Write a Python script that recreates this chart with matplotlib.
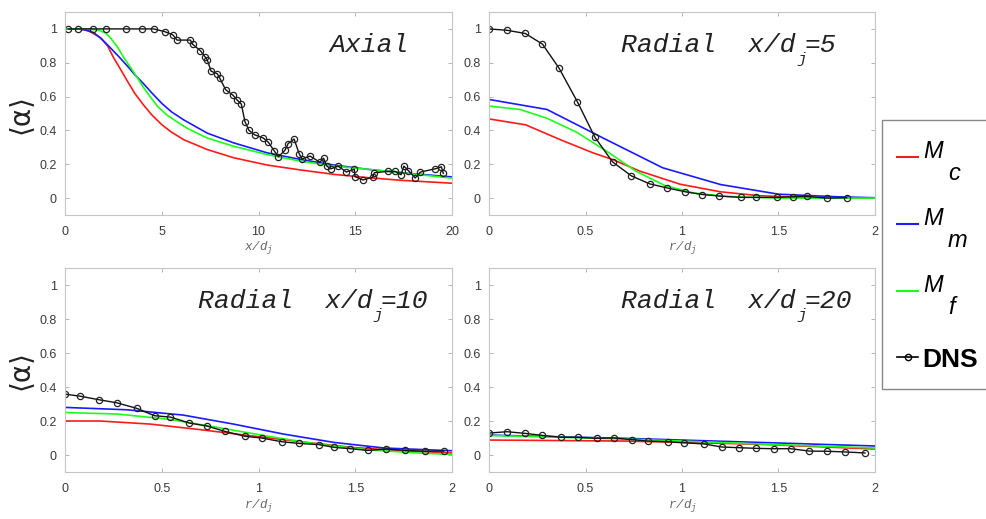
import matplotlib
matplotlib.use("Agg")
import matplotlib.pyplot as plt
from matplotlib.lines import Line2D
from matplotlib.patches import Rectangle

plt.rcParams['mathtext.fontset'] = 'custom'
plt.rcParams['mathtext.it'] = 'Liberation Mono:italic'
plt.rcParams['mathtext.rm'] = 'Liberation Mono:italic'
plt.rcParams['font.family'] = ['Liberation Sans', 'DejaVu Sans']

# ---------------- Axial ----------------
ax_dns_x = [0.17, 0.69, 1.47, 2.13, 3.16, 3.96, 4.58, 5.15, 5.57, 5.79, 6.48, 6.59, 7.0, 7.23,
            7.35, 7.55, 7.87, 7.99, 8.30, 8.68, 8.9, 9.11, 9.30, 9.51, 9.8, 10.25, 10.51, 10.80,
            11.03, 11.37, 11.53, 11.84, 12.10, 12.24, 12.67, 13.17, 13.36, 13.53, 13.74, 14.12,
            14.54, 14.95, 14.99, 15.40, 15.90, 15.99, 16.71, 17.06, 17.37, 17.51, 17.75, 18.1,
            18.37, 19.13, 19.45, 19.55]
ax_dns_y = [1.0, 1.0, 1.0, 1.0, 1.0, 1.0, 1.0, 0.984, 0.965, 0.934, 0.934, 0.91, 0.871, 0.836,
            0.817, 0.75, 0.735, 0.711, 0.641, 0.608, 0.579, 0.556, 0.452, 0.40, 0.374, 0.355,
            0.33, 0.281, 0.244, 0.283, 0.322, 0.349, 0.263, 0.232, 0.248, 0.212, 0.236, 0.189,
            0.173, 0.189, 0.154, 0.17, 0.127, 0.107, 0.123, 0.15, 0.158, 0.158, 0.138, 0.189,
            0.162, 0.119, 0.154, 0.173, 0.185, 0.146]

ax_mc_x = [0.0, 0.7, 1.2, 1.81, 2.2, 2.51, 2.85, 3.2, 3.6, 4.06, 4.5, 5.01, 5.5, 6.14, 7.35, 8.73,
           10.46, 12.19, 13.92, 15.64, 17.37, 20.0]
ax_mc_y = [1.0, 1.0, 0.99, 0.95, 0.9, 0.83, 0.765, 0.696, 0.62, 0.55, 0.49, 0.433, 0.39, 0.345,
           0.287, 0.238, 0.195, 0.166, 0.14, 0.121, 0.105, 0.088]
ax_mm_x = [0.0, 0.7, 1.0, 1.47, 1.9, 2.33, 2.75, 3.2, 3.6, 4.06, 4.5, 5.01, 5.5, 6.14, 7.35, 8.73,
           10.46, 12.19, 13.92, 15.64, 17.37, 20.0]
ax_mm_y = [1.0, 1.0, 0.995, 0.979, 0.94, 0.89, 0.84, 0.784, 0.73, 0.676, 0.62, 0.559, 0.51, 0.462,
           0.384, 0.326, 0.267, 0.228, 0.195, 0.17, 0.15, 0.125]
ax_mf_x = [0.0, 0.7, 1.3, 1.81, 2.1, 2.33, 2.7, 3.03, 3.4, 3.72, 4.05, 4.41, 4.8, 5.27, 5.8, 6.31,
           7.35, 8.73, 10.46, 12.19, 13.92, 15.64, 17.37, 20.0]
ax_mf_y = [1.0, 1.0, 1.0, 0.99, 0.975, 0.95, 0.895, 0.832, 0.77, 0.715, 0.655, 0.598, 0.54, 0.491,
           0.45, 0.413, 0.355, 0.306, 0.257, 0.218, 0.189, 0.17, 0.15, 0.118]

# ---------------- Radial x/dj = 5 ----------------
r5_dns_x = [0.0, 0.093, 0.188, 0.277, 0.363, 0.458, 0.548, 0.64, 0.738, 0.833, 0.923, 1.018,
            1.106, 1.193, 1.305, 1.386, 1.494, 1.573, 1.649, 1.749, 1.853]
r5_dns_y = [1.0, 0.992, 0.973, 0.91, 0.768, 0.569, 0.361, 0.214, 0.131, 0.084, 0.06, 0.037,
            0.021, 0.012, 0.004, 0.004, 0.004, 0.008, 0.01, 0.0, 0.002]
r5_mc_x = [0.0, 0.19, 0.37, 0.54, 0.64, 0.78, 0.99, 1.2, 1.4, 1.66, 2.0]
r5_mc_y = [0.468, 0.433, 0.345, 0.267, 0.228, 0.16, 0.082, 0.037, 0.014, 0.002, 0.0]
r5_mm_x = [0.0, 0.3, 0.6, 0.9, 1.2, 1.5, 1.8, 2.0]
r5_mm_y = [0.583, 0.524, 0.35, 0.179, 0.08, 0.023, 0.008, 0.002]
r5_mf_x = [0.0, 0.16, 0.30, 0.453, 0.61, 0.76, 0.91, 1.06, 1.23, 1.5, 2.0]
r5_mf_y = [0.544, 0.524, 0.472, 0.39, 0.277, 0.16, 0.075, 0.03, 0.01, 0.0, 0.0]

# ---------------- Radial x/dj = 10 ----------------
r10_dns_x = [0.0, 0.078, 0.176, 0.268, 0.372, 0.463, 0.545, 0.643, 0.735, 0.826, 0.93, 1.016,
             1.12, 1.21, 1.314, 1.39, 1.475, 1.564, 1.66, 1.758, 1.858, 1.958]
r10_dns_y = [0.358, 0.346, 0.325, 0.307, 0.274, 0.231, 0.223, 0.188, 0.17, 0.139, 0.11, 0.1,
             0.078, 0.068, 0.061, 0.045, 0.037, 0.027, 0.035, 0.027, 0.022, 0.023]
r10_mc_x = [0.0, 0.18, 0.44, 0.7, 0.96, 1.22, 1.48, 1.74, 2.0]
r10_mc_y = [0.2, 0.2, 0.182, 0.149, 0.113, 0.078, 0.045, 0.025, 0.012]
r10_mm_x = [0.0, 0.32, 0.61, 0.87, 1.13, 1.39, 1.65, 2.0]
r10_mm_y = [0.28, 0.266, 0.235, 0.182, 0.123, 0.074, 0.041, 0.025]
r10_mf_x = [0.0, 0.27, 0.53, 0.79, 1.05, 1.3, 1.56, 1.82, 2.0]
r10_mf_y = [0.25, 0.241, 0.211, 0.162, 0.11, 0.065, 0.031, 0.012, 0.003]

# ---------------- Radial x/dj = 20 ----------------
r20_dns_x = [0.0, 0.093, 0.188, 0.277, 0.375, 0.46, 0.557, 0.647, 0.743, 0.825, 0.928, 1.01,
             1.115, 1.205, 1.295, 1.386, 1.476, 1.564, 1.66, 1.75, 1.844, 1.948]
r20_dns_y = [0.129, 0.137, 0.127, 0.115, 0.104, 0.104, 0.098, 0.1, 0.09, 0.082, 0.078, 0.072,
             0.065, 0.047, 0.043, 0.039, 0.037, 0.037, 0.023, 0.022, 0.018, 0.012]
r20_mc_x = [0.0, 0.71, 1.4, 2.0]
r20_mc_y = [0.088, 0.082, 0.063, 0.035]
r20_mm_x = [0.0, 0.71, 1.4, 2.0]
r20_mm_y = [0.117, 0.098, 0.074, 0.053]
r20_mf_x = [0.0, 0.71, 1.4, 2.0]
r20_mf_y = [0.115, 0.094, 0.065, 0.041]

panels = [
    dict(rect=(65, 12, 452, 215), xlim=(0, 20), xticks=[0, 5, 10, 15, 20], xtl=['0', '5', '10', '15', '20'],
         xlabel=r'$x/d_j$', title=('Axial', None), ylabel=True,
         dns=(ax_dns_x, ax_dns_y), mc=(ax_mc_x, ax_mc_y), mm=(ax_mm_x, ax_mm_y), mf=(ax_mf_x, ax_mf_y)),
    dict(rect=(489, 12, 875, 215), xlim=(0, 2), xticks=[0, 0.5, 1, 1.5, 2], xtl=['0', '0.5', '1', '1.5', '2'],
         xlabel=r'$r/d_j$', title=('Radial  x/d', '=5'), ylabel=False,
         dns=(r5_dns_x, r5_dns_y), mc=(r5_mc_x, r5_mc_y), mm=(r5_mm_x, r5_mm_y), mf=(r5_mf_x, r5_mf_y)),
    dict(rect=(65, 268, 452, 472), xlim=(0, 2), xticks=[0, 0.5, 1, 1.5, 2], xtl=['0', '0.5', '1', '1.5', '2'],
         xlabel=r'$r/d_j$', title=('Radial  x/d', '=10'), ylabel=True,
         dns=(r10_dns_x, r10_dns_y), mc=(r10_mc_x, r10_mc_y), mm=(r10_mm_x, r10_mm_y), mf=(r10_mf_x, r10_mf_y)),
    dict(rect=(489, 268, 875, 472), xlim=(0, 2), xticks=[0, 0.5, 1, 1.5, 2], xtl=['0', '0.5', '1', '1.5', '2'],
         xlabel=r'$r/d_j$', title=('Radial  x/d', '=20'), ylabel=False,
         dns=(r20_dns_x, r20_dns_y), mc=(r20_mc_x, r20_mc_y), mm=(r20_mm_x, r20_mm_y), mf=(r20_mf_x, r20_mf_y)),
]

yticks = [0, 0.2, 0.4, 0.6, 0.8, 1]
ytl = ['0', '0.2', '0.4', '0.6', '0.8', '1']

W, H = 986, 519
fig = plt.figure(figsize=(W / 100, H / 100), dpi=100)
renderer = fig.canvas.get_renderer()

C_RED, C_BLUE, C_GREEN = '#ff1a1a', '#1a1aff', '#1aff1a'
TFONT = dict(family='Liberation Mono', style='italic', color='#222222')

for p in panels:
    x0, y0, x1, y1 = p['rect']
    ax = fig.add_axes([x0 / W, 1 - y1 / H, (x1 - x0) / W, (y1 - y0) / H])
    ax.plot(*p['mc'], color=C_RED, lw=1.2)
    ax.plot(*p['mm'], color=C_BLUE, lw=1.2)
    ax.plot(*p['mf'], color=C_GREEN, lw=1.2)
    ax.plot(*p['dns'], color='#111111', lw=1.0, marker='o', ms=4.5, mfc='none', mec='#222222', mew=0.9)
    ax.set_xlim(*p['xlim'])
    ax.set_ylim(-0.1, 1.1)
    ax.set_xticks(p['xticks'])
    ax.set_xticklabels(p['xtl'])
    ax.set_yticks(yticks)
    ax.set_yticklabels(ytl)
    ax.tick_params(direction='in', length=3, width=0.6, color='#aaaaaa', labelsize=9,
                   labelcolor='#3a3a3a', top=True, right=True)
    ax.tick_params(axis='x', pad=8)
    ax.tick_params(axis='y', pad=6)
    for s in ax.spines.values():
        s.set_color('#c4c4c4')
        s.set_linewidth(0.8)
    ax.set_xlabel(p['xlabel'], fontsize=9, color='#666666', labelpad=1)
    main, tail = p['title']
    if tail is None:
        ax.text(0.889, 0.803, main, transform=ax.transAxes, ha='right', va='baseline',
                fontsize=19, **TFONT)
    else:
        t = ax.text(0.343, 0.803, main, transform=ax.transAxes, ha='left', va='baseline',
                    fontsize=19, **TFONT)
        bb = t.get_window_extent(renderer)
        bx, by = ax.transAxes.transform((0.343, 0.803))
        fig.text((bb.x1 + 1) / W, (by - 11) / H, 'j', fontsize=11, ha='left', va='baseline', **TFONT)
        fig.text((bb.x1 + 8) / W, by / H, tail, fontsize=19, ha='left', va='baseline', **TFONT)
    if p['ylabel']:
        ax.set_ylabel('⟨α⟩', fontsize=20, family=['DejaVu Sans'], color='#222222', labelpad=4)

# ---------------- legend (manual) ----------------
def fx(px):
    return px / W

def fy(py):
    return 1 - py / H

fig.patches.append(Rectangle((fx(882), fy(389)), fx(1010) - fx(882), fy(120) - fy(389),
                             transform=fig.transFigure, fill=True, facecolor='white',
                             edgecolor='#888888', lw=1.0, clip_on=False))
leg_items = [('c', C_RED, 157), ('m', C_BLUE, 224), ('f', C_GREEN, 291)]
for sub, col, ly in leg_items:
    fig.add_artist(Line2D([fx(897), fx(918)], [fy(ly), fy(ly)], color=col, lw=1.5,
                          transform=fig.transFigure))
    fig.text(fx(923), fy(ly + 1), 'M', fontsize=17, style='italic', family='Liberation Sans',
             va='baseline', ha='left', color='black')
    fig.text(fx(948), fy(ly + 23), sub, fontsize=17, style='italic', family='Liberation Sans',
             va='baseline', ha='left', color='black')
fig.add_artist(Line2D([fx(897), fx(918)], [fy(357), fy(357)], color='black', lw=1.2,
                      transform=fig.transFigure))
fig.add_artist(Line2D([fx(907.5)], [fy(357)], color='black', marker='o', ms=4.5, mfc='none',
                      mew=1.0, transform=fig.transFigure))
fig.text(fx(922), fy(367), 'DNS', fontsize=19, weight='bold', family='Liberation Sans',
         va='baseline', ha='left', color='black')

fig.savefig('out.png', dpi=100)
